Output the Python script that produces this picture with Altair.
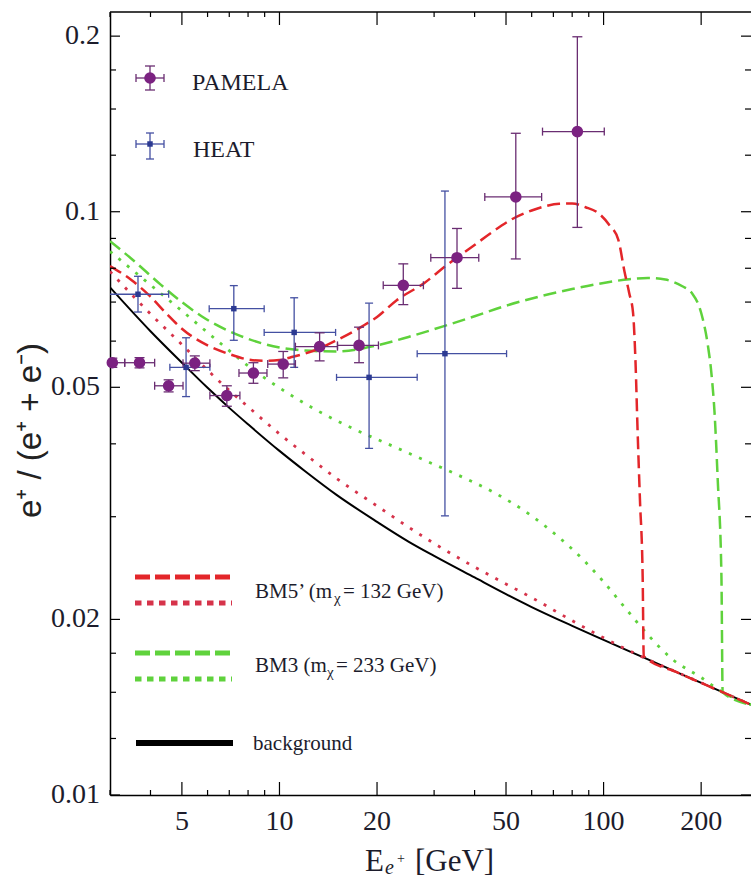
import altair as alt
import pandas as pd

# ---------------- data ----------------
# background (black solid)
bg_E = [3, 4, 5, 6, 7, 8, 10, 12, 15, 20, 25, 30, 40, 50, 60, 80, 100, 130, 170, 230, 285]
bg_r = [0.0742, 0.0624, 0.0551, 0.0499, 0.0461, 0.0432, 0.0389, 0.0359, 0.0327, 0.0294, 0.0272,
        0.0257, 0.0236, 0.0221, 0.0210, 0.0195, 0.01845, 0.0173, 0.0162, 0.01505, 0.01428]

# BM5' dashed
bm5d_E = [3, 3.5, 4, 4.5, 5, 6, 7, 8, 9, 10, 11, 13, 15, 18, 20, 23, 28, 33, 39, 45, 52, 60, 66,
          73, 80, 88, 96, 104, 111, 116, 120, 123.3, 125.5, 127.3, 129.5, 132, 133, 170, 230, 285]
bm5d_r = [0.0807, 0.0763, 0.0715, 0.0667, 0.0630, 0.0590, 0.0570, 0.0558, 0.0555, 0.0557, 0.0564,
          0.0580, 0.0602, 0.0636, 0.0660, 0.0705, 0.0755, 0.0812, 0.0868, 0.0920, 0.0970, 0.1005,
          0.1022, 0.1032, 0.1033, 0.1018, 0.0996, 0.0950, 0.0896, 0.0790, 0.0725, 0.0671, 0.0550,
          0.0423, 0.0320, 0.0237, 0.0173, 0.0162, 0.01505, 0.01428]

# BM5' dotted
bm5t_E = [3, 4, 5, 6, 7, 8, 10, 12, 15, 20, 25, 30, 40, 50, 60, 80, 100, 130, 170, 230, 285]
bm5t_r = [0.0790, 0.0668, 0.0592, 0.0535, 0.0494, 0.0463, 0.0416, 0.0384, 0.0349, 0.0313, 0.0288,
          0.0270, 0.0246, 0.0230, 0.0218, 0.0199, 0.0186, 0.0173, 0.0162, 0.01505, 0.01428]

# BM3 dashed
bm3d_E = [3, 3.5, 4.3, 5, 5.75, 7.6, 10, 12, 15, 20, 25, 32, 40, 50, 65, 80, 100, 120, 137, 155,
          175, 187, 200, 210, 215, 220, 225, 231, 233, 285]
bm3d_r = [0.0890, 0.0830, 0.0750, 0.0700, 0.0662, 0.0612, 0.0585, 0.0578, 0.0576, 0.0590, 0.0610,
          0.0636, 0.0662, 0.0690, 0.0718, 0.0737, 0.0755, 0.0766, 0.0770, 0.0765, 0.0745, 0.0726,
          0.0671, 0.0588, 0.0530, 0.0452, 0.0347, 0.0237, 0.0150, 0.01428]

# BM3 dotted
bm3t_E = [3, 4, 5, 6.5, 8, 10, 13, 17, 22, 28, 35, 45, 60, 72, 86, 100, 116, 135, 162, 200,
          233, 285]
bm3t_r = [0.0855, 0.0749, 0.0676, 0.0598, 0.0544, 0.0499, 0.0457, 0.0424, 0.0398, 0.0375, 0.0355,
          0.0332, 0.0301, 0.0278, 0.0254, 0.0232, 0.0210, 0.0190, 0.01714, 0.0159, 0.0150,
          0.01428]

# PAMELA measurements
pam_E = [3.05, 3.70, 4.55, 5.48, 6.88, 8.31, 10.27, 13.3, 17.6, 24.1, 35.3, 53.6, 83.0]
pam_r = [0.0551, 0.0551, 0.0503, 0.0550, 0.0484, 0.0529, 0.0548, 0.0587, 0.0590, 0.0748, 0.0834,
         0.1060, 0.1372]
pam_Elo = [2.9, 3.33, 4.12, 5.04, 6.10, 7.50, 9.20, 11.2, 15.1, 20.9, 29.3, 43.0, 64.8]
pam_Ehi = [3.33, 4.12, 5.04, 6.10, 7.55, 9.15, 11.2, 15.1, 20.2, 27.8, 41.2, 64.4, 100.5]
pam_rlo = [0.0541, 0.0540, 0.0491, 0.0534, 0.0464, 0.0508, 0.0519, 0.0555, 0.0551, 0.0693, 0.0739,
           0.0830, 0.0940]
pam_rhi = [0.0561, 0.0562, 0.0515, 0.0566, 0.0503, 0.0551, 0.0576, 0.0620, 0.0634, 0.0814, 0.0936,
           0.1363, 0.1995]

# HEAT measurements
heat_E = [3.66, 5.15, 7.23, 11.1, 18.9, 32.4]
heat_r = [0.0722, 0.0541, 0.0682, 0.0621, 0.0520, 0.0571]
heat_Elo = [2.95, 4.59, 6.07, 8.97, 15.0, 26.6]
heat_Ehi = [4.55, 6.10, 8.97, 14.9, 26.6, 50.2]
heat_rlo = [0.0673, 0.0482, 0.0602, 0.0541, 0.0393, 0.0301]
heat_rhi = [0.0775, 0.0608, 0.0747, 0.0712, 0.0697, 0.1085]

# axis ticks and their labels
x_major = [5, 10, 20, 50, 100, 200]
x_labels = ["5", "10", "20", "50", "100", "200"]
x_minor = [3, 4, 6, 7, 8, 9, 30, 40, 60, 70, 80, 90]
y_major = [0.01, 0.02, 0.05, 0.1, 0.2]
y_labels = ["0.01", "0.02", "0.05", "0.1", "0.2"]
y_minor = [0.0125, 0.015, 0.0175, 0.03, 0.04, 0.06, 0.07, 0.08, 0.09, 0.125, 0.15, 0.175]

# ---------------- style ----------------
W, H = 641, 783
SERIF = "Liberation Serif"
LABEL_COLOR = "#1c1c2c"
RED = "#E3262A"
RED_DOT = "#D6334A"
GREEN = "#5FD23C"
PURPLE = "#7B2281"
PURPLE_BAR = "#6A2D72"
NAVY = "#2C3A92"
NAVY_BAR = "#4450A2"

xscale = alt.Scale(type="log", domain=[3, 285], nice=False)
yscale = alt.Scale(type="log", domain=[0.01, 0.22], nice=False)

xax = alt.Axis(values=x_major, title=None, ticks=False, labels=False, grid=False,
               domainColor="black", domainWidth=1.5)
yax = alt.Axis(values=y_major, ticks=False, labels=False, grid=False,
               domainColor="black", domainWidth=1.5,
               title="e⁺ / (e⁺ + e⁻)", titleFont="Liberation Sans", titleFontSize=33,
               titleFontWeight="normal", titleColor="#222222", titleX=-80, titleY=418,
               titleAngle=-90, titleAlign="center", titleBaseline="middle")


def X(field):
    return alt.X(field, type="quantitative", scale=xscale, axis=xax)


def Y(field):
    return alt.Y(field, type="quantitative", scale=yscale, axis=yax)


def curve(es, rs, color, width, dash=None):
    kw = dict(color=color, strokeWidth=width, interpolate="monotone", clip=True)
    if dash:
        kw["strokeDash"] = dash
    df = pd.DataFrame({"E": es, "ratio": rs})
    return alt.Chart(df).mark_line(**kw).encode(x=X("E"), y=Y("ratio"), order="E:Q")


def measurements(es, rs, elo, ehi, rlo, rhi, bar_color, cap_v, cap_h):
    df = pd.DataFrame({"E": es, "ratio": rs, "E_lo": elo, "E_hi": ehi,
                       "r_lo": rlo, "r_hi": rhi})
    base = alt.Chart(df)
    hbar = base.mark_rule(color=bar_color, strokeWidth=1.3, clip=True).encode(
        x=X("E_lo"), x2="E_hi", y=Y("ratio"))
    vbar = base.mark_rule(color=bar_color, strokeWidth=1.3, clip=True).encode(
        x=X("E"), y=Y("r_lo"), y2="r_hi")
    caps = []
    for f in ("E_lo", "E_hi"):
        caps.append(base.mark_tick(orient="vertical", size=cap_v, thickness=1.3,
                                   color=bar_color, opacity=1, clip=True)
                    .encode(x=X(f), y=Y("ratio")))
    for f in ("r_lo", "r_hi"):
        caps.append(base.mark_tick(orient="horizontal", size=cap_h, thickness=1.3,
                                   color=bar_color, opacity=1, clip=True)
                    .encode(x=X("E"), y=Y(f)))
    return [hbar, vbar] + caps


layers = []

# model curves
layers.append(curve(bg_E, bg_r, "black", 2.0))
layers.append(curve(bm5t_E, bm5t_r, RED_DOT, 2.8, [3, 8]))
layers.append(curve(bm3t_E, bm3t_r, GREEN, 2.8, [3, 8]))
layers.append(curve(bm3d_E, bm3d_r, GREEN, 2.5, [13, 6]))
layers.append(curve(bm5d_E, bm5d_r, RED, 2.5, [13, 6]))

# HEAT data
layers += measurements(heat_E, heat_r, heat_Elo, heat_Ehi, heat_rlo, heat_rhi, NAVY_BAR, 7, 8)
layers.append(alt.Chart(pd.DataFrame({"E": heat_E, "ratio": heat_r}))
              .mark_square(size=30, color=NAVY, opacity=1)
              .encode(x=X("E"), y=Y("ratio")))

# PAMELA data
layers += measurements(pam_E, pam_r, pam_Elo, pam_Ehi, pam_rlo, pam_rhi, PURPLE_BAR, 8, 10)
layers.append(alt.Chart(pd.DataFrame({"E": pam_E, "ratio": pam_r}))
              .mark_circle(size=135, color=PURPLE, opacity=1)
              .encode(x=X("E"), y=Y("ratio")))

# inward tick marks on all four sides
xt_major = alt.Chart(pd.DataFrame({"t": x_major, "lab": x_labels}))
xt_minor = alt.Chart(pd.DataFrame({"t": x_minor}))
yt_major = alt.Chart(pd.DataFrame({"t": y_major, "lab": y_labels}))
yt_minor = alt.Chart(pd.DataFrame({"t": y_minor}))
for src, ln in ((xt_major, 13), (xt_minor, 5)):
    layers.append(src.mark_rule(color="black", strokeWidth=1.2).encode(
        x=X("t"), y=alt.value(H), y2=alt.value(H - ln)))
    layers.append(src.mark_rule(color="black", strokeWidth=1.2).encode(
        x=X("t"), y=alt.value(0), y2=alt.value(ln)))
for src, ln in ((yt_major, 10), (yt_minor, 6)):
    layers.append(src.mark_rule(color="black", strokeWidth=1.2).encode(
        y=Y("t"), x=alt.value(0), x2=alt.value(ln)))
    layers.append(src.mark_rule(color="black", strokeWidth=1.2).encode(
        y=Y("t"), x=alt.value(W), x2=alt.value(W - ln)))

# tick labels in a serif face
layers.append(xt_major.mark_text(font=SERIF, fontSize=28, color=LABEL_COLOR, align="center",
                                 baseline="top").encode(
    x=X("t"), y=alt.value(H + 13), text="lab:N"))
layers.append(yt_major.mark_text(font=SERIF, fontSize=28, color=LABEL_COLOR, align="right",
                                 baseline="middle").encode(
    y=Y("t"), x=alt.value(-10), text="lab:N"))

one = alt.Chart(pd.DataFrame({"k": [0]}))

# top frame line
layers.append(one.mark_rule(color="black", strokeWidth=1.5).encode(
    x=alt.value(0), x2=alt.value(W), y=alt.value(0)))


def seg(x1, x2, y1, y2, color, width, dash=None):
    kw = dict(color=color, strokeWidth=width)
    if dash:
        kw["strokeDash"] = dash
    return one.mark_rule(**kw).encode(x=alt.value(x1), x2=alt.value(x2),
                                      y=alt.value(y1), y2=alt.value(y2))


def label(txt, x, y, size, style="normal", font=SERIF, color=LABEL_COLOR):
    return one.mark_text(text=txt, align="left", baseline="alphabetic", font=font,
                         fontSize=size, fontStyle=style, color=color).encode(
        x=alt.value(x), y=alt.value(y))


# legend: data sets
layers += [
    seg(26, 54, 66, 66, PURPLE_BAR, 1.3), seg(40, 40, 54, 78, PURPLE_BAR, 1.3),
    seg(26, 26, 62, 70, PURPLE_BAR, 1.3), seg(54, 54, 62, 70, PURPLE_BAR, 1.3),
    seg(35, 45, 54, 54, PURPLE_BAR, 1.3), seg(35, 45, 78, 78, PURPLE_BAR, 1.3),
    one.mark_circle(size=135, color=PURPLE, opacity=1).encode(x=alt.value(40), y=alt.value(66)),
    label("PAMELA", 82, 78, 24),
    seg(26, 54, 132, 132, NAVY_BAR, 1.3), seg(40, 40, 121, 147, NAVY_BAR, 1.3),
    seg(26, 26, 128, 136, NAVY_BAR, 1.3), seg(54, 54, 128, 136, NAVY_BAR, 1.3),
    seg(36, 44, 121, 121, NAVY_BAR, 1.3), seg(36, 44, 147, 147, NAVY_BAR, 1.3),
    one.mark_square(size=30, color=NAVY, opacity=1).encode(x=alt.value(40), y=alt.value(132)),
    label("HEAT", 83, 145, 24),
]

# legend: model curves
layers += [
    seg(25, 122, 565, 565, RED, 5, [15, 5]),
    seg(25, 122, 591, 591, RED_DOT, 5, [6.5, 5.5]),
    label("BM5’ (m", 145, 586, 21),
    label("χ", 224, 591, 15),
    label("= 132 GeV)", 233, 586, 21),
    seg(25, 122, 641, 641, GREEN, 5, [15, 5]),
    seg(25, 122, 667, 667, GREEN, 5, [6.5, 5.5]),
    label("BM3 (m", 145, 660, 21),
    label("χ", 217, 665, 15),
    label("= 233 GeV)", 226, 660, 21),
    seg(26, 123, 731, 731, "black", 6),
    label("background", 143, 738, 21),
]

# x-axis title with subscript
layers += [
    label("E", 255, 859, 31),
    label("e", 275, 862, 20, style="italic"),
    label("+", 287, 851, 14),
    label("[GeV]", 305, 859, 31),
]

chart = alt.layer(*layers).properties(
    width=W, height=H,
    autosize=alt.AutoSizeParams(type="none"),
    padding={"left": 110, "top": 12, "right": 0, "bottom": 84},
    background="white",
).configure_view(stroke=None)

chart.save("out.html", embed_options={"renderer": "svg", "actions": False})
